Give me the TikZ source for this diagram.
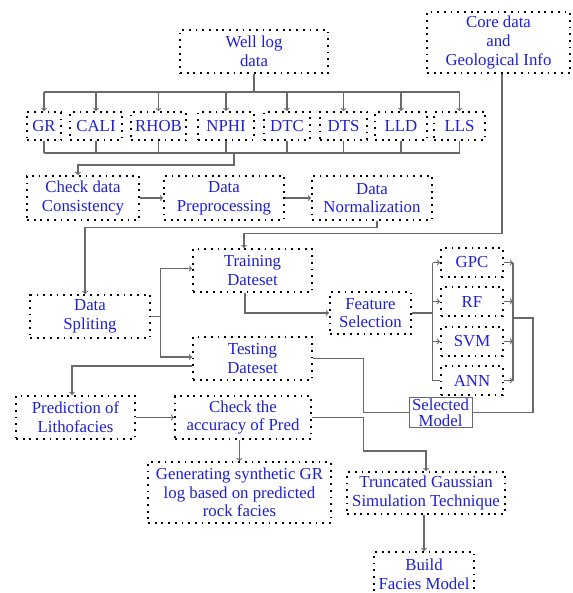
\documentclass[tikz,border=0pt]{standalone}
\usepackage{fontspec}
\setmainfont{Liberation Serif}
\definecolor{txtblue}{RGB}{30,30,215}
\definecolor{linkgray}{RGB}{105,105,105}
\tikzset{
  box/.style={draw=black, dash pattern=on 1.8pt off 4.9pt, line width=1.8pt,
    text=txtblue, align=center, inner sep=1pt,
    font=\fontsize{16.8}{18.7}\selectfont},
  logbox/.style={box, minimum height=28pt},
  modelbox/.style={box, minimum width=62pt, minimum height=29pt},
  link/.style={draw=linkgray, line width=1.1pt},
}

\begin{document}
\begin{tikzpicture}[x=1pt, y=-1pt]
  \useasboundingbox (0,0) rectangle (572,593);
  \node (well) [box, minimum width=148pt, minimum height=43pt] at (254,51.5) {Well log\\data};
  \node (core) [box, minimum width=143pt, minimum height=61pt] at (498.5,42.5) {Core data\\and\\Geological Info};
  \node (gr) [logbox, minimum width=34pt] at (44,126) {GR};
  \node (cali) [logbox, minimum width=52pt] at (96,126) {CALI};
  \node (rhob) [logbox, minimum width=55pt] at (158.5,126) {RHOB};
  \node (nphi) [logbox, minimum width=56pt] at (226,126) {NPHI};
  \node (dtc) [logbox, minimum width=46pt] at (287,126) {DTC};
  \node (dts) [logbox, minimum width=47pt] at (343.5,126) {DTS};
  \node (lld) [logbox, minimum width=52pt] at (401,126) {LLD};
  \node (lls) [logbox, minimum width=51pt] at (459.5,126) {LLS};
  \node (check) [box, minimum width=112pt, minimum height=44pt] at (83,198) {Check data\\Consistency};
  \node (prep) [box, minimum width=120pt, minimum height=44pt] at (224,198) {Data\\Preprocessing};
  \node (norm) [box, minimum width=120pt, minimum height=44pt] at (372,198) {Data\\Normalization};
  \node (train) [box, minimum width=119pt, minimum height=43pt] at (252.5,270.5) {Training\\Dateset};
  \node (split) [box, minimum width=120pt, minimum height=43pt] at (90,316.5) {Data\\Spliting};
  \node (test) [box, minimum width=119pt, minimum height=43pt] at (252.5,358.5) {Testing\\Dateset};
  \node (feat) [box, minimum width=81pt, minimum height=42pt] at (370.5,313) {Feature\\Selection};
  \node (gpc) [modelbox] at (472,262.5) {GPC};
  \node (rf) [modelbox] at (472,301.5) {RF};
  \node (svm) [modelbox] at (472,341.5) {SVM};
  \node (ann) [modelbox] at (472,380.5) {ANN};
  \node (sel) [draw=linkgray, line width=1pt, text=txtblue, align=center, inner sep=1pt,
    minimum width=63pt, minimum height=30pt,
    font=\fontsize{16.8}{16}\selectfont] at (440.5,412.5) {Selected\\Model};
  \node (pred) [box, minimum width=119pt, minimum height=43pt] at (75.5,417.5) {Prediction of\\Lithofacies};
  \node (acc) [box, minimum width=136pt, minimum height=43pt] at (243,417.5) {Check the\\accuracy of Pred};
  \node (gen) [box, minimum width=183pt, minimum height=61pt] at (239.5,492.5) {Generating synthetic GR\\log based on predicted\\rock facies};
  \node (tgs) [box, minimum width=158pt, minimum height=42pt] at (426,493) {Truncated Gaussian\\Simulation Technique};
  \node (build) [box, minimum width=100pt, minimum height=44pt] at (424,574) {Build\\Facies Model};

  \coordinate (topbus) at (254,92);
  \coordinate (botbus) at (234,153);
  \draw[link] (well) -- (well |- topbus);
  \draw[link] (gr |- topbus) -- (lls |- topbus);
  \draw[link] (gr |- botbus) -- (lls |- botbus);
  \foreach \n in {gr,cali,rhob,nphi,dtc,dts,lld,lls}{
    \draw[->, link] (\n |- topbus) -- (\n);
    \draw[link] (\n) -- (\n |- botbus);
  }
  \draw[->, link] (botbus) -- ++(0,12) -| ([xshift=-5pt]check.north);
  \draw[->, link] (check) -- (prep);
  \draw[->, link] (prep) -- (norm);
  \draw[->, link] ([xshift=5pt]norm.south) -- ++(0,7) -| ([xshift=-5pt]split.north);
  \draw[->, link] ([xshift=3.5pt]core.south) -- ++(0,160) -| ([xshift=-8.5pt]train.north);
  \draw[->, link] (split.east) -- ++(10,0) |- ([yshift=2pt]train.west);
  \draw[->, link] (split.east) -- ++(10,0) |- ([yshift=1.5pt]test.west);
  \draw[->, link] ([xshift=-7.5pt]train.south) |- (feat.west);
  \draw[link] (feat.east) -- ++(21,0) coordinate (fork);
  \draw[link] (fork |- gpc) -- (fork |- ann) -- (ann.west);
  \foreach \m in {gpc,rf,svm}
    \draw[->, link] (fork |- \m) -- (\m);
  \coordinate (merge) at (513,318);
  \foreach \m in {gpc,rf,svm,ann}
    \draw[->, link] (\m) -- (\m -| merge);
  \draw[link] (merge |- gpc) -- (merge |- ann);
  \draw[link] (merge) -- ++(20,0) |- (sel.east);
  \draw[link] (test.east) -- ++(51,0) |- (sel.west);
  \draw[->, link] ([yshift=-7.5pt]test.west) -| ([xshift=-3.5pt]pred.north);
  \draw[->, link] (pred) -- (acc);
  \draw[->, link] (acc.south -| gen.north) -- (gen.north);
  \draw[->, link] (acc.east) -- ++(52,0) -- ++(0,33.5) -| (tgs.north);
  \draw[->, link] (tgs.south -| build.north) -- (build.north);
\end{tikzpicture}
\end{document}
